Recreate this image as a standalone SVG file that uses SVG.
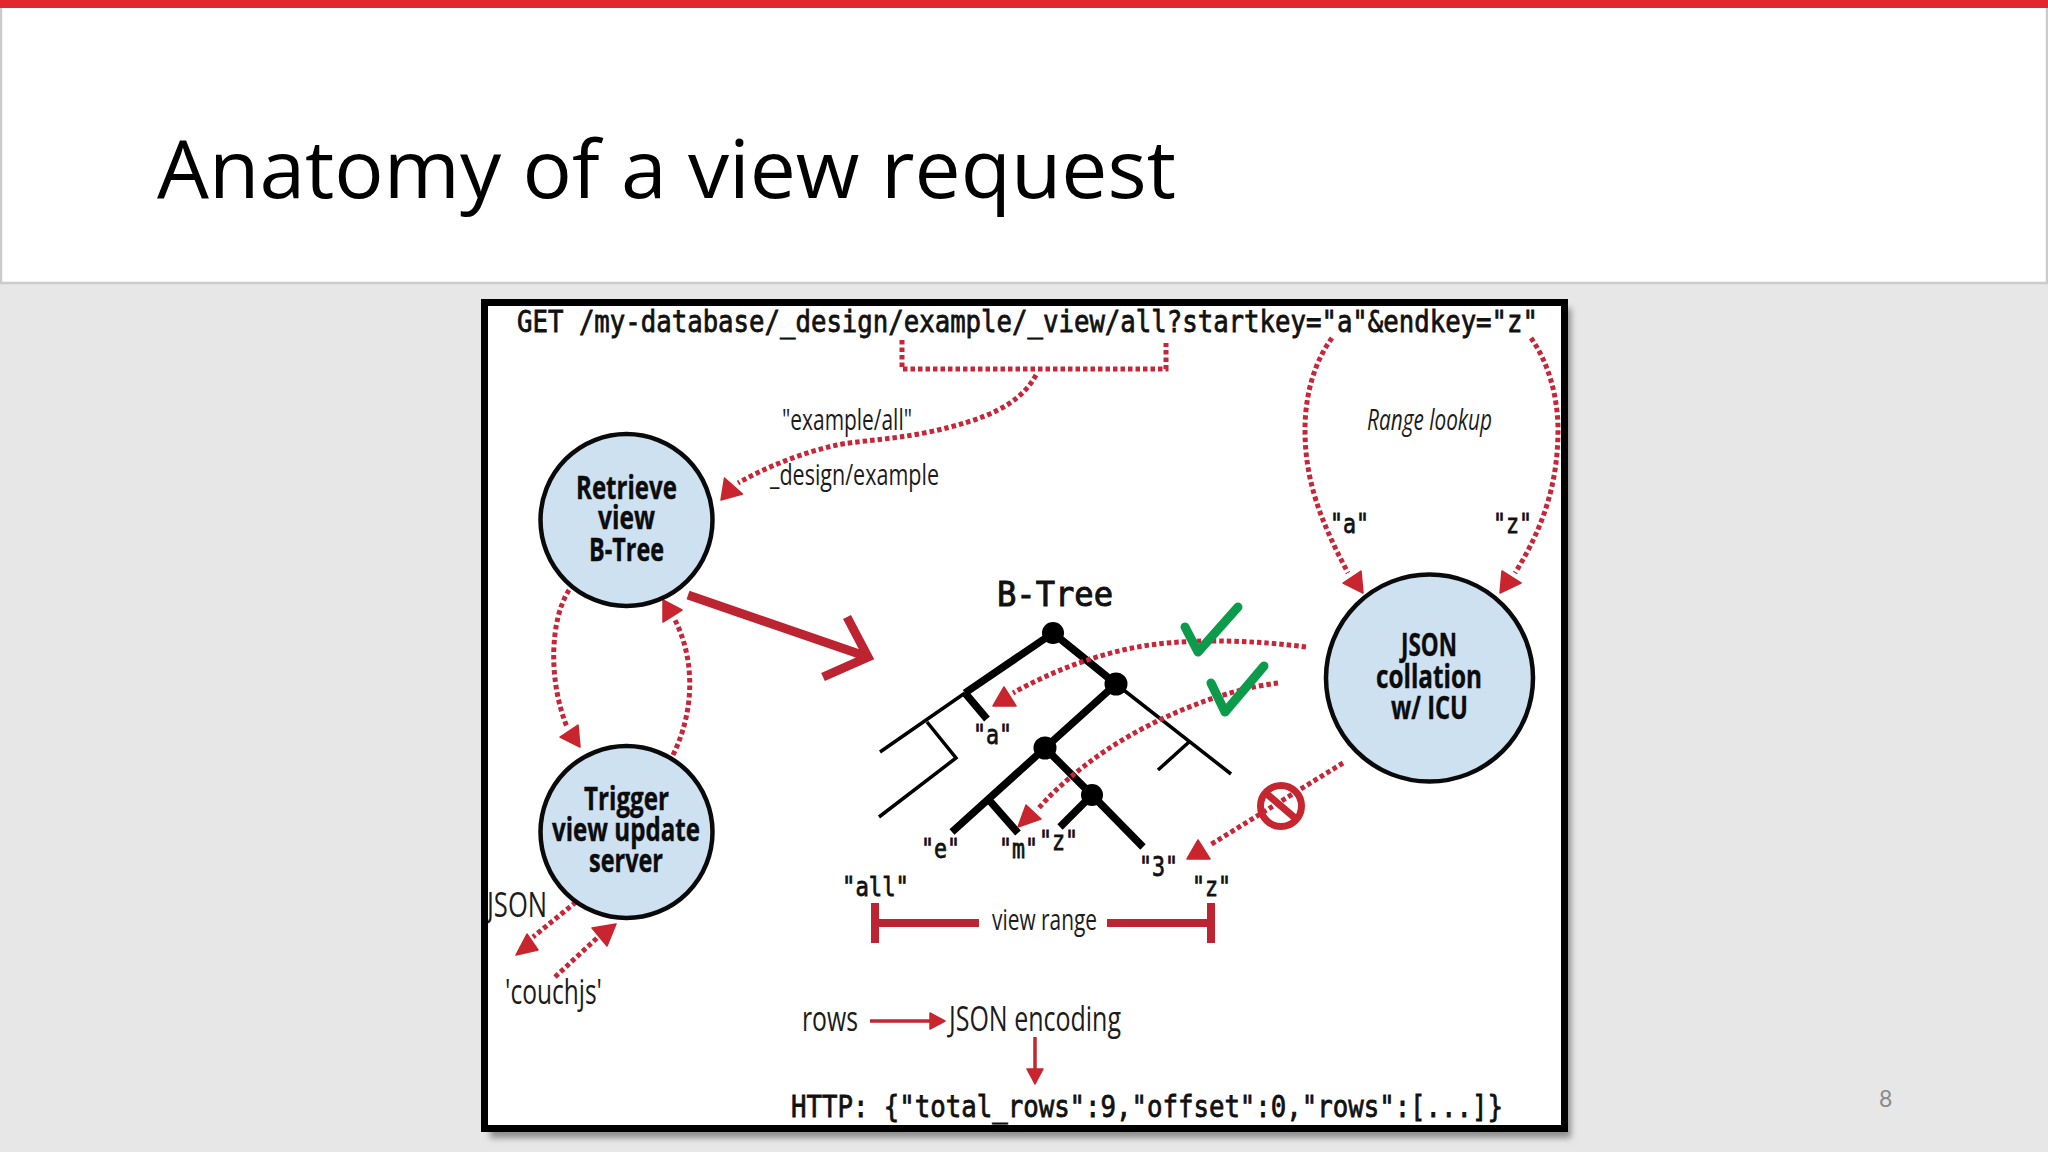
<svg xmlns="http://www.w3.org/2000/svg" width="2048" height="1152" viewBox="0 0 2048 1152">
<style>
.mono{font-family:"DejaVu Sans Mono","Liberation Mono",monospace;font-size:30px;fill:#111;stroke:#111;stroke-width:.8px}
.small{font-size:27px}
.cond{font-family:"Open Sans","Noto Sans",sans-serif;font-size:30px;fill:#1c1c1c}
.big{font-size:34px}
.nl{font-family:"Open Sans","Noto Sans",sans-serif;font-size:32px;font-weight:700;fill:#0c0c0c;stroke:#0c0c0c;stroke-width:.4px}
.node{fill:#cde1f1;stroke:#0a0a0a;stroke-width:4.5px}
.dot{fill:none;stroke:#c62638;stroke-width:5px;stroke-dasharray:4.5 3}
.head{fill:#c9252f;stroke:#c9252f;stroke-width:1.5px;stroke-linejoin:round}
.thick{fill:none;stroke:#000;stroke-width:7.5px}
.thin{fill:none;stroke:#000;stroke-width:3.5px}
.red{fill:none;stroke:#bd2431;stroke-width:8px}
.red2{fill:none;stroke:#c5252f;stroke-width:3.5px}
.chk{fill:none;stroke:#0c9a4b;stroke-width:9px;stroke-linecap:round;stroke-linejoin:round}
</style>
<defs><filter id="sh" x="-3%" y="-3%" width="106%" height="106%"><feGaussianBlur stdDeviation="3"/></filter></defs>
<rect width="2048" height="1152" fill="#e7e7e7"/>
<g id="header">
<rect x="1" y="4" width="2046" height="279" fill="#fff" stroke="#cbcbcb" stroke-width="2.5"/>
<rect width="2048" height="8" fill="#e4262d"/>
<text x="157" y="198" font-family="'Open Sans',Lato,sans-serif" font-size="80" fill="#000" textLength="1019" lengthAdjust="spacingAndGlyphs">Anatomy of a view request</text>
</g>
<text id="page-number" x="1879" y="1107" font-family="Lato,'Open Sans',sans-serif" font-size="23" fill="#8a8a8a">8</text>
<g id="frame-back">
<rect x="490" y="308" width="1081" height="830" fill="#8f8f8f" filter="url(#sh)"/>
<rect x="484.500" y="302.500" width="1080" height="826" fill="#fff"/>
</g>
<g id="labels">
<text class="mono" x="517" y="332" textLength="1021" lengthAdjust="spacingAndGlyphs">GET /my-database/_design/example/_view/all?startkey="a"&amp;endkey="z"</text>
<text class="cond" x="782" y="430" textLength="130" lengthAdjust="spacingAndGlyphs">"example/all"</text>
<text class="cond" x="770" y="485" textLength="169" lengthAdjust="spacingAndGlyphs">_design/example</text>
<text class="cond" x="1367" y="430" textLength="125" lengthAdjust="spacingAndGlyphs" font-style="italic">Range lookup</text>
<text class="mono small" x="1330" y="533" textLength="39" lengthAdjust="spacingAndGlyphs">"a"</text>
<text class="mono small" x="1493" y="533" textLength="39" lengthAdjust="spacingAndGlyphs">"z"</text>
<text class="mono" x="997" y="606" style="font-size:34px;stroke-width:1px" textLength="116" lengthAdjust="spacingAndGlyphs">B-Tree</text>
<text class="mono small" x="973" y="744" textLength="39" lengthAdjust="spacingAndGlyphs">"a"</text>
<text class="mono small" x="921" y="858" textLength="39" lengthAdjust="spacingAndGlyphs">"e"</text>
<text class="mono small" x="999" y="858" textLength="39" lengthAdjust="spacingAndGlyphs">"m"</text>
<text class="mono small" x="1039" y="850" textLength="39" lengthAdjust="spacingAndGlyphs">"z"</text>
<text class="mono small" x="1139" y="876" textLength="39" lengthAdjust="spacingAndGlyphs">"3"</text>
<text class="mono small" x="842" y="896" textLength="67" lengthAdjust="spacingAndGlyphs">"all"</text>
<text class="mono small" x="1192" y="896" textLength="39" lengthAdjust="spacingAndGlyphs">"z"</text>
<text class="cond" x="992" y="930" textLength="105" lengthAdjust="spacingAndGlyphs">view range</text>
<text class="cond big" x="487" y="917" textLength="60" lengthAdjust="spacingAndGlyphs">JSON</text>
<text class="cond big" x="505" y="1004" textLength="97" lengthAdjust="spacingAndGlyphs">'couchjs'</text>
<text class="cond big" x="802" y="1031" textLength="56" lengthAdjust="spacingAndGlyphs">rows</text>
<text class="cond big" x="949" y="1031" textLength="172" lengthAdjust="spacingAndGlyphs">JSON encoding</text>
<text class="mono" x="791" y="1117" textLength="712" lengthAdjust="spacingAndGlyphs">HTTP: {"total_rows":9,"offset":0,"rows":[...]}</text>
</g>
<g id="tree">
<path class="thick" d="M1053 633L965 693M965 693L987 719M1053 633L1116 684L1045 748L952 832M989 800L1018 833M1045 748L1092 795L1060 827M1092 795L1143 847"/>
<path class="thin" d="M965 693L880 752M927 722L956 758L879 817M1116 684L1231 774M1189 742L1158 770"/>
<circle cx="1053" cy="633" r="11"/><circle cx="1116" cy="684" r="11.500"/><circle cx="1045" cy="748" r="11.500"/><circle cx="1092" cy="795" r="11"/>
</g>
<g id="connectors">
<path class="dot" d="M902 340V369H1166V343"/>
<path class="dot" d="M1036 375C1020 405 985 420 929 432C890 440 855 441 837 445C805 452 770 465 738 483"/>
<polygon class="head" points="721,500 724.500,478 742.500,494"/>
<path class="dot" d="M1332 338C1312 365 1305 400 1305 430C1305 480 1320 520 1348 573"/>
<polygon class="head" points="1363,593 1343,583 1361,571"/>
<path class="dot" d="M1531 338C1550 365 1558 400 1558 430C1558 480 1545 525 1515 573"/>
<polygon class="head" points="1500,593 1502,571 1521,583"/>
<path class="dot" d="M569 590C550 620 548 680 567 727"/>
<polygon class="head" points="580,747 560,737 578,725"/>
<path class="dot" d="M673 755C695 710 695 660 675 620"/>
<polygon class="head" points="663,600 663,622 682,610"/>
<path class="dot" d="M576 902L533 937"/>
<polygon class="head" points="516,955 538,950 527,934"/>
<path class="dot" d="M555 977L597 938"/>
<polygon class="head" points="616,924 592,928 607,946"/>
<path class="dot" d="M1306 647C1260 641 1200 638 1150 645C1100 652 1050 672 1013 693"/>
<polygon class="head" points="993,706 1016,706 1004,687"/>
<path class="dot" d="M1278 683C1220 690 1140 722 1083 767C1065 781 1050 795 1037 810"/>
<polygon class="head" points="1018,827 1041,819 1026,805"/>
<path class="dot" d="M1343 763L1210 845"/>
<polygon class="head" points="1187,859 1210,859 1198,840"/>
<path class="red" style="stroke-width:9px" d="M688 595L868 657M847 617L868 657L823 677"/>
<path class="red" d="M875 903V943M875 923H979M1107 923H1211M1211 903V943"/>
<path class="red2" d="M870 1021H932"/>
<polygon class="head" points="945,1021 930,1013 930,1029"/>
<path class="red2" d="M1035 1037V1072"/>
<polygon class="head" points="1035,1084 1027,1069 1043,1069"/>
</g>
<g id="marks">
<path class="chk" d="M1185 627L1198 652L1238 607"/>
<path class="chk" d="M1211 683L1225 712L1264 666"/>
<circle cx="1281" cy="806" r="20.500" fill="none" stroke="#c62630" stroke-width="7"/>
<path d="M1267 794L1295 818" stroke="#c62630" stroke-width="7" fill="none"/>
</g>
<g id="node-retrieve">
<circle class="node" cx="626.500" cy="520" r="86"/>
<text class="nl" x="576" y="499" textLength="101" lengthAdjust="spacingAndGlyphs">Retrieve</text>
<text class="nl" x="598" y="529" textLength="57" lengthAdjust="spacingAndGlyphs">view</text>
<text class="nl" x="589" y="561" textLength="75" lengthAdjust="spacingAndGlyphs">B-Tree</text>
</g>
<g id="node-trigger">
<circle class="node" cx="626.500" cy="832" r="86"/>
<text class="nl" x="584" y="810" textLength="85" lengthAdjust="spacingAndGlyphs">Trigger</text>
<text class="nl" x="552" y="841" textLength="148" lengthAdjust="spacingAndGlyphs">view update</text>
<text class="nl" x="589" y="872" textLength="74" lengthAdjust="spacingAndGlyphs">server</text>
</g>
<g id="node-json">
<circle class="node" cx="1429.500" cy="678" r="103.500"/>
<text class="nl" x="1401" y="656" textLength="56" lengthAdjust="spacingAndGlyphs">JSON</text>
<text class="nl" x="1376" y="688" textLength="106" lengthAdjust="spacingAndGlyphs">collation</text>
<text class="nl" x="1391" y="719" textLength="77" lengthAdjust="spacingAndGlyphs">w/ ICU</text>
</g>
<rect id="frame" x="484.500" y="302.500" width="1080" height="826" fill="none" stroke="#000" stroke-width="7"/>
</svg>
